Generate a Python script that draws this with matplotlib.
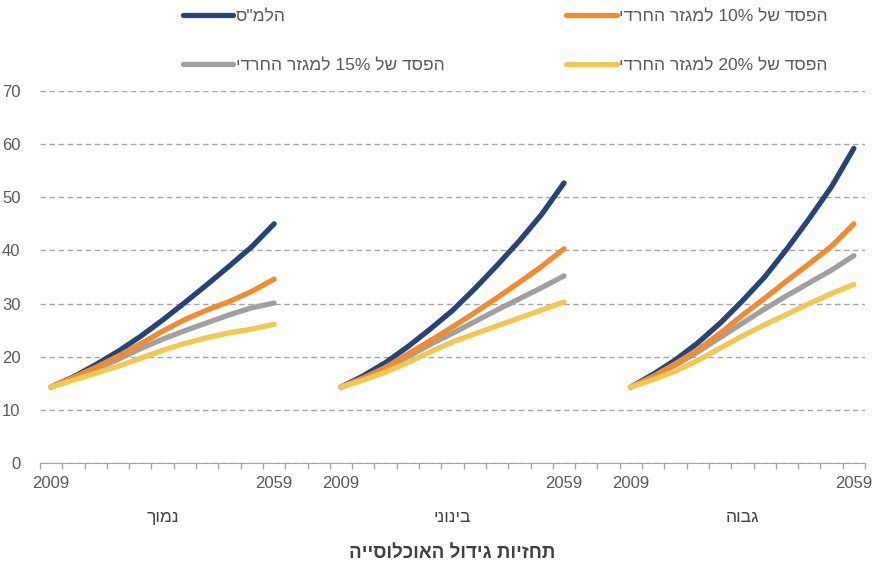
import matplotlib
matplotlib.use('Agg')
import matplotlib.pyplot as plt
import numpy as np

plt.rcParams['font.family'] = ['Liberation Sans', 'DejaVu Sans']

# scenario groups (visual order of Hebrew text, since matplotlib has no bidi)
groups = ['ךומנ', 'ינוניב', 'הובג']           # נמוך, בינוני, גבוה
years = [2009, 2014, 2019, 2024, 2029, 2034, 2039, 2044, 2049, 2054, 2059]

# population (millions) per scenario, 5-year steps 2009-2059
cbs_low = [14.3, 16.2, 18.5, 21.0, 23.8, 26.9, 30.2, 33.6, 37.1, 40.7, 45.0]
cbs_mid = [14.3, 16.4, 18.9, 21.9, 25.2, 28.7, 32.8, 37.2, 41.8, 46.8, 52.7]
cbs_high = [14.3, 16.7, 19.4, 22.6, 26.3, 30.5, 35.0, 40.3, 46.0, 52.0, 59.2]

loss10_low = [14.3, 16.1, 18.0, 20.1, 22.4, 24.8, 27.0, 28.8, 30.4, 32.3, 34.6]
loss10_mid = [14.3, 16.0, 18.0, 20.5, 23.0, 25.6, 28.3, 31.1, 34.0, 37.0, 40.3]
loss10_high = [14.3, 16.3, 18.7, 21.3, 24.4, 27.8, 31.0, 34.3, 37.5, 40.8, 45.0]

loss15_low = [14.3, 15.9, 17.6, 19.5, 21.5, 23.3, 24.9, 26.4, 27.9, 29.2, 30.1]
loss15_mid = [14.3, 15.9, 17.7, 20.0, 22.3, 24.4, 26.6, 28.8, 30.9, 33.0, 35.2]
loss15_high = [14.3, 16.2, 18.4, 20.9, 23.6, 26.3, 29.0, 31.5, 33.9, 36.3, 39.0]

loss20_low = [14.3, 15.6, 16.9, 18.2, 19.7, 21.2, 22.5, 23.6, 24.5, 25.2, 26.1]
loss20_mid = [14.3, 15.6, 17.1, 18.9, 20.9, 22.8, 24.3, 25.8, 27.3, 28.8, 30.3]
loss20_high = [14.3, 15.7, 17.3, 19.3, 21.6, 23.9, 26.0, 28.0, 30.0, 31.9, 33.6]

series = [
    ('ס"מלה', '#264478', [cbs_low, cbs_mid, cbs_high]),
    ('ידרחה רזגמל 15% לש דספה', '#a0a0a0', [loss15_low, loss15_mid, loss15_high]),
    ('ידרחה רזגמל 10% לש דספה', '#f28a2e', [loss10_low, loss10_mid, loss10_high]),
    ('ידרחה רזגמל 20% לש דספה', '#f2c852', [loss20_low, loss20_mid, loss20_high]),
]
title = 'הייסולכואה לודיג תויזחת'   # תחזיות גידול האוכלוסייה

n = len(years)
gap = 2
step = n + gap
total = len(groups) * n + (len(groups) - 1) * gap

fig = plt.figure(figsize=(8.78, 5.67), dpi=100)
ax = fig.add_axes([40/878, 1 - 463/567, 825/878, 372/567])

handles = []
for name, color, vals in series:
    for g in range(len(groups)):
        x = np.arange(n) + g * step
        ln, = ax.plot(x, vals[g], color=color, lw=3.8, solid_capstyle='round',
                      solid_joinstyle='round', label=name)
    handles.append(ln)

ax.set_xlim(-0.5, total - 0.5)
ax.set_ylim(0, 70)
ax.set_yticks(np.arange(0, 71, 10))
ax.yaxis.grid(True, color='#a6a6a6', lw=1, ls=(0, (4, 2.5)))
ax.set_axisbelow(True)
for s in ['top', 'right', 'left']:
    ax.spines[s].set_visible(False)
ax.spines['bottom'].set_color('#a6a6a6')
ax.tick_params(axis='y', length=0, labelsize=12, labelcolor='#595959', pad=14)

# year labels at group ends, tick marks at category boundaries
major = []
labels = []
for g in range(len(groups)):
    major += [g * step, g * step + n - 1]
    labels += [str(years[0]), str(years[-1])]
ax.set_xticks(major)
ax.set_xticklabels(labels)
ax.set_xticks(np.arange(-0.5, total, 1), minor=True)
ax.tick_params(axis='x', which='major', length=0, labelsize=12,
               labelcolor='#595959', pad=9)
ax.tick_params(axis='x', which='minor', length=4, color='#a6a6a6', width=1)

for g, name in enumerate(groups):
    ax.text(g * step + (n - 1) / 2, -10.3, name, ha='center', va='center',
            fontsize=12.5, color='#404040')

fig.text(452/878, 1 - 553/567, title, ha='center', va='center', fontsize=13.5,
         fontweight='bold', color='#404040')

fig.legend(handles=handles, loc='upper left', ncol=2,
           bbox_to_anchor=(183/878, 1 - 9/567), frameon=False, fontsize=12.5,
           handlelength=2.9, handletextpad=0.15, columnspacing=7.0,
           labelspacing=1.95, borderpad=0, borderaxespad=0,
           labelcolor='#595959')

fig.savefig('out.png', dpi=100)
